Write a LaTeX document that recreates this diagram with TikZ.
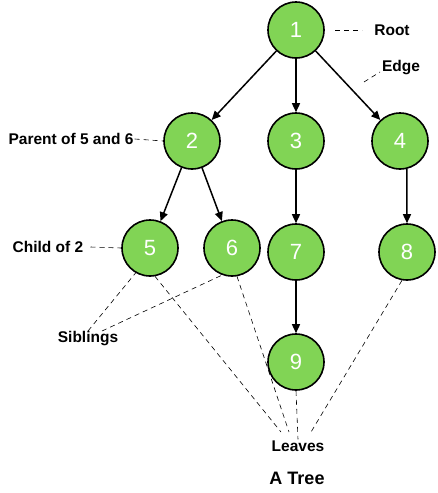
\documentclass[tikz,border=0pt]{standalone}
\usepackage{fontspec}
\setmainfont{Liberation Sans}
\usetikzlibrary{arrows.meta}
\definecolor{leafgreen}{RGB}{129,212,85}
\begin{document}
\begin{tikzpicture}[x=1pt,y=-1pt,
  tnode/.style={circle,draw=black,line width=1.6pt,fill=leafgreen,minimum size=56pt,inner sep=0pt,text=white,font=\fontsize{22}{22}\selectfont},
  lbl/.style={font=\bfseries\fontsize{15.5}{15.5}\selectfont,inner sep=1pt},
  edge/.style={line width=1.5pt,-{Triangle[length=9pt,width=8pt]}},
  note/.style={line width=0.6pt,dash pattern=on 5pt off 4pt}]
\useasboundingbox (0,0) rectangle (438,493);
\node[tnode] (n1) at (296,30) {1};
\node[tnode] (n2) at (192,141) {2};
\node[tnode] (n3) at (296,141) {3};
\node[tnode] (n4) at (400,141) {4};
\node[tnode] (n5) at (150,248) {5};
\node[tnode] (n6) at (232,248) {6};
\node[tnode] (n7) at (296,252) {7};
\node[tnode] (n8) at (407,252) {8};
\node[tnode] (n9) at (296,362) {9};
\draw[edge] (n1) -- (n2);
\draw[edge] (n1) -- (n3);
\draw[edge] (n1) -- (n4);
\draw[edge] (n2) -- (n5);
\draw[edge] (n2) -- (n6);
\draw[edge] (n3) -- (n7);
\draw[edge] (n4.-76) -- (n8.north);
\draw[edge] (n7) -- (n9);
\node[lbl] (root) at (392,30) {Root};
\node[lbl] (edgel) at (401,68) {Edge};
\node[lbl] (par) at (71,139) {Parent of 5 and 6};
\node[lbl] (child) at (48,247) {Child of 2};
\node[lbl] (sib) at (88,339) {Siblings};
\node[lbl] (leaves) at (298,446) {Leaves};
\node[font=\bfseries\fontsize{18}{18}\selectfont] (title) at (297,478) {A Tree};
\coordinate (r1) at (335,30);
\coordinate (r2) at (362,30);
\coordinate (e1) at (364,82);
\coordinate (e2) at (380,72);
\draw[note] (r1) -- (r2);
\draw[note] (e1) -- (e2);
\draw[note] (par.east) -- (n2.west);
\draw[note] (child.east) ++(6,0) -- (n5.west);
\coordinate (s1) at (88,331);
\coordinate (s2) at (102,331);
\draw[note] (s1) -- (n5.-120);
\draw[note] (s2) -- (n6.-110);
\coordinate (l1) at (281,432);
\coordinate (l2) at (289,432);
\coordinate (l4) at (311,432);
\draw[note] (n5.-80) -- (l1);
\draw[note] (n6.-80) -- (l2);
\draw[note] (n9.south) -- (leaves.north);
\draw[note] (n8.-100) -- (l4);
\end{tikzpicture}
\end{document}
